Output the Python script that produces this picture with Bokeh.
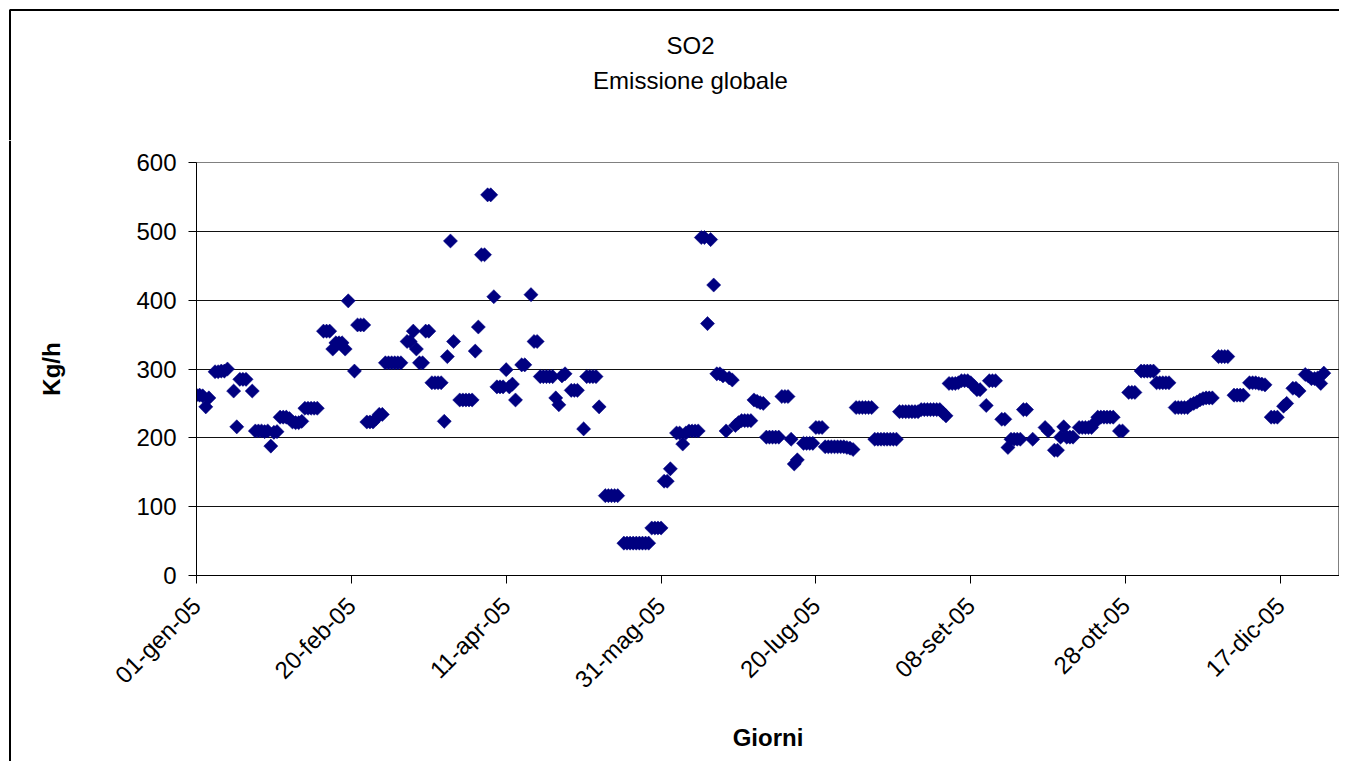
import numpy as np
from bokeh.plotting import figure
from bokeh.layouts import column, row
from bokeh.models import Range1d, FixedTicker, ColumnDataSource
from bokeh.core.properties import value
from bokeh.embed import file_html
from bokeh.resources import INLINE

# ---- data (day offset from 01-gen-05, Kg/h) ----
q1_days = [0, 1, 2, 3, 4, 6, 7, 8, 9, 10, 12, 13, 14, 15, 16, 18, 19, 20, 21, 22, 23, 24, 25, 26,
           27, 28, 29, 30, 31, 32, 33, 34, 35, 36, 37, 38, 39, 41, 42, 43, 44, 45, 46, 47, 48, 49,
           51, 52, 53, 54, 55, 56, 57, 58, 59, 60, 61, 62, 63, 64, 65, 66, 68, 69, 70, 71, 72, 73,
           74, 75, 76, 77, 78, 79, 80, 81, 82, 83, 85, 86, 87, 88, 89]
q1_kgh = [262, 262, 261, 245, 258, 296, 296, 297, 297, 300, 268, 216, 285, 285, 285, 268, 210, 210,
          210, 209, 210, 188, 208, 209, 230, 230, 230, 228, 223, 222, 222, 224, 243, 243, 243, 243,
          243, 355, 355, 355, 329, 338, 338, 338, 329, 399, 297, 364, 364, 364, 223, 223, 223, 228,
          234, 234, 309, 309, 309, 309, 309, 309, 340, 340, 355, 329, 309, 309, 355, 355, 280, 280,
          280, 280, 224, 318, 486, 340, 255, 255, 255, 255, 255]

q2_days = [90, 91, 92, 93, 94, 95, 96, 97, 98, 99, 100, 101, 102, 103, 105, 106, 108, 109, 110,
           111, 112, 113, 114, 115, 116, 117, 118, 119, 121, 122, 123, 125, 126, 127, 128, 129, 130,
           132, 133, 134, 135, 136, 138, 139, 140, 141, 142, 143, 144, 145, 146, 147, 148, 149, 150,
           151, 152, 153, 155, 156, 157, 158, 159, 160, 161, 162, 163, 164, 165, 166, 167, 168, 169,
           170, 171, 172, 173, 174, 175, 176, 177, 178, 179]
q2_kgh = [326, 361, 466, 466, 553, 553, 405, 274, 274, 274, 299, 274, 278, 255, 306, 306, 408, 340,
          340, 289, 289, 289, 289, 289, 258, 248, 290, 293, 269, 269, 269, 213, 289, 289, 289, 289,
          245, 116, 116, 116, 116, 116, 47, 47, 47, 47, 47, 47, 47, 47, 47, 69, 69, 69, 69, 137, 137,
          155, 207, 207, 191, 207, 210, 210, 210, 210, 491, 491, 366, 488, 422, 293, 293, 290, 210,
          287, 284, 218, 222, 225, 225, 225, 225]

q3_days = [180, 181, 182, 183, 184, 185, 186, 187, 188, 189, 190, 191, 192, 193, 194, 196, 197,
           198, 199, 200, 201, 202, 203, 204, 205, 206, 207, 208, 209, 210, 211, 212, 213, 214, 215,
           216, 217, 218, 219, 220, 221, 222, 223, 224, 225, 226, 227, 228, 229, 230, 231, 232, 233,
           234, 235, 236, 237, 238, 239, 240, 241, 242, 243, 244, 245, 246, 247, 248, 249, 250, 251,
           252, 253, 255, 256, 257, 258, 260, 261, 262, 263, 264, 265, 266, 267, 268, 270]
q3_kgh = [255, 253, 251, 250, 201, 201, 201, 201, 201, 260, 260, 260, 198, 162, 168, 192, 192, 192,
          192, 215, 215, 215, 187, 187, 187, 187, 187, 187, 187, 186, 185, 183, 244, 244, 244, 244,
          244, 244, 198, 198, 198, 198, 198, 198, 198, 198, 238, 238, 238, 238, 238, 238, 238, 241,
          241, 241, 241, 241, 241, 241, 236, 232, 279, 279, 279, 280, 283, 283, 283, 280, 275, 270,
          270, 247, 283, 283, 283, 227, 227, 186, 198, 198, 198, 198, 241, 241, 198]

q4_days = [274, 275, 277, 278, 279, 280, 281, 282, 283, 285, 286, 287, 288, 289, 290, 291, 292,
           293, 294, 295, 296, 298, 299, 301, 302, 303, 305, 306, 307, 308, 309, 310, 311, 312, 313,
           314, 316, 317, 318, 319, 320, 321, 322, 323, 324, 325, 326, 327, 328, 330, 331, 332, 333,
           335, 336, 337, 338, 340, 341, 342, 343, 344, 345, 347, 348, 349, 351, 352, 354, 355, 356,
           358, 359, 360, 361, 362, 363, 364]
q4_kgh = [215, 210, 182, 182, 201, 216, 201, 201, 201, 215, 215, 215, 215, 215, 222, 230, 230, 230,
          230, 230, 230, 210, 210, 266, 266, 266, 297, 297, 297, 297, 297, 280, 280, 280, 280, 280,
          244, 244, 244, 244, 244, 248, 250, 252, 255, 257, 258, 258, 258, 318, 318, 318, 318, 262,
          262, 262, 262, 280, 280, 280, 279, 278, 277, 230, 230, 230, 246, 250, 272, 272, 268, 292,
          290, 286, 286, 287, 279, 294]

x_tick_days = [0, 50, 100, 150, 200, 250, 300, 350]
x_tick_labels = ["01-gen-05", "20-feb-05", "11-apr-05", "31-mag-05",
                 "20-lug-05", "08-set-05", "28-ott-05", "17-dic-05"]
y_ticks = [0, 100, 200, 300, 400, 500, 600]
title_lines = ["SO2", "Emissione globale"]

giorni = q1_days + q2_days + q3_days + q4_days
kgh = q1_kgh + q2_kgh + q3_kgh + q4_kgh
src = ColumnDataSource(data=dict(giorno=giorni, kgh=kgh))

FONT = "Liberation Sans"
W = 1339
H = 761
TOP_H = 140
STRIP_W = 11


def blank(width, height):
    f = figure(width=width, height=height, output_backend="svg", toolbar_location=None,
               x_range=Range1d(0, width), y_range=Range1d(height, 0),
               x_axis_type=None, y_axis_type=None, min_border=0)
    f.frame_align = False
    f.outline_line_color = None
    f.background_fill_color = "white"
    f.border_fill_color = "white"
    f.xgrid.grid_line_color = None
    f.ygrid.grid_line_color = None
    return f


# ---------- title strip (pixel coordinates, y downward) ----------
t = blank(W, TOP_H)
t.text(x=[690, 690], y=[45, 80], text=title_lines,
       text_align="center", text_baseline="middle",
       text_font=value(FONT), text_font_size="24px", text_color="black")
t.line(x=[9.5, 9.5, W], y=[TOP_H, 9.5, 9.5], line_color="black", line_width=2)

# ---------- left strip carrying the chart border ----------
s = blank(STRIP_W, H - TOP_H)
s.line(x=[9.5, 9.5], y=[0, H - TOP_H], line_color="black", line_width=2)

# ---------- main plot ----------
p = figure(width=W - STRIP_W, height=H - TOP_H, output_backend="svg", toolbar_location=None,
           title=None,
           x_range=Range1d(0, 369.06), y_range=Range1d(0, 600),
           min_border_left=196 - STRIP_W, min_border_right=0, min_border_top=162 - TOP_H,
           min_border_bottom=186)
p.frame_align = False
p.background_fill_color = "white"
p.border_fill_color = "white"
p.outline_line_color = "#808080"
p.outline_line_width = 1

p.scatter("giorno", "kgh", source=src, marker="square", angle=np.pi / 4, size=10,
          fill_color="#000080", line_color="#000080", line_width=0.5)

# grid
p.xgrid.grid_line_color = None
p.ygrid.grid_line_color = "#111111"
p.ygrid.grid_line_width = 1
p.ygrid.ticker = FixedTicker(ticks=y_ticks)

# x axis
xa = p.xaxis[0]
xa.ticker = FixedTicker(ticks=x_tick_days)
xa.major_label_overrides = {d: l for d, l in zip(x_tick_days, x_tick_labels)}
xa.major_label_orientation = np.pi / 4
xa.major_label_text_font = FONT
xa.major_label_text_font_size = "24px"
xa.major_label_text_color = "black"
xa.major_label_standoff = 18
xa.major_tick_out = 8
xa.major_tick_in = 0
xa.minor_tick_line_color = None
xa.axis_line_color = "black"
xa.major_tick_line_color = "black"
xa.axis_label = "Giorni"
xa.axis_label_text_font = FONT
xa.axis_label_text_font_size = "24px"
xa.axis_label_text_font_style = "bold"
xa.axis_label_text_color = "black"
xa.axis_label_standoff = 18

# y axis
ya = p.yaxis[0]
ya.ticker = FixedTicker(ticks=y_ticks)
ya.major_label_text_font = FONT
ya.major_label_text_font_size = "24px"
ya.major_label_text_color = "black"
ya.major_label_standoff = 12
ya.major_tick_out = 8
ya.major_tick_in = 0
ya.minor_tick_line_color = None
ya.axis_line_color = "black"
ya.major_tick_line_color = "black"
ya.axis_label = "Kg/h"
ya.axis_label_text_font = FONT
ya.axis_label_text_font_size = "24px"
ya.axis_label_text_font_style = "bold"
ya.axis_label_text_color = "black"
ya.axis_label_standoff = 68

layout = column(t, row(s, p, spacing=0), spacing=0)
open("out.html", "w").write(file_html(layout, INLINE))
